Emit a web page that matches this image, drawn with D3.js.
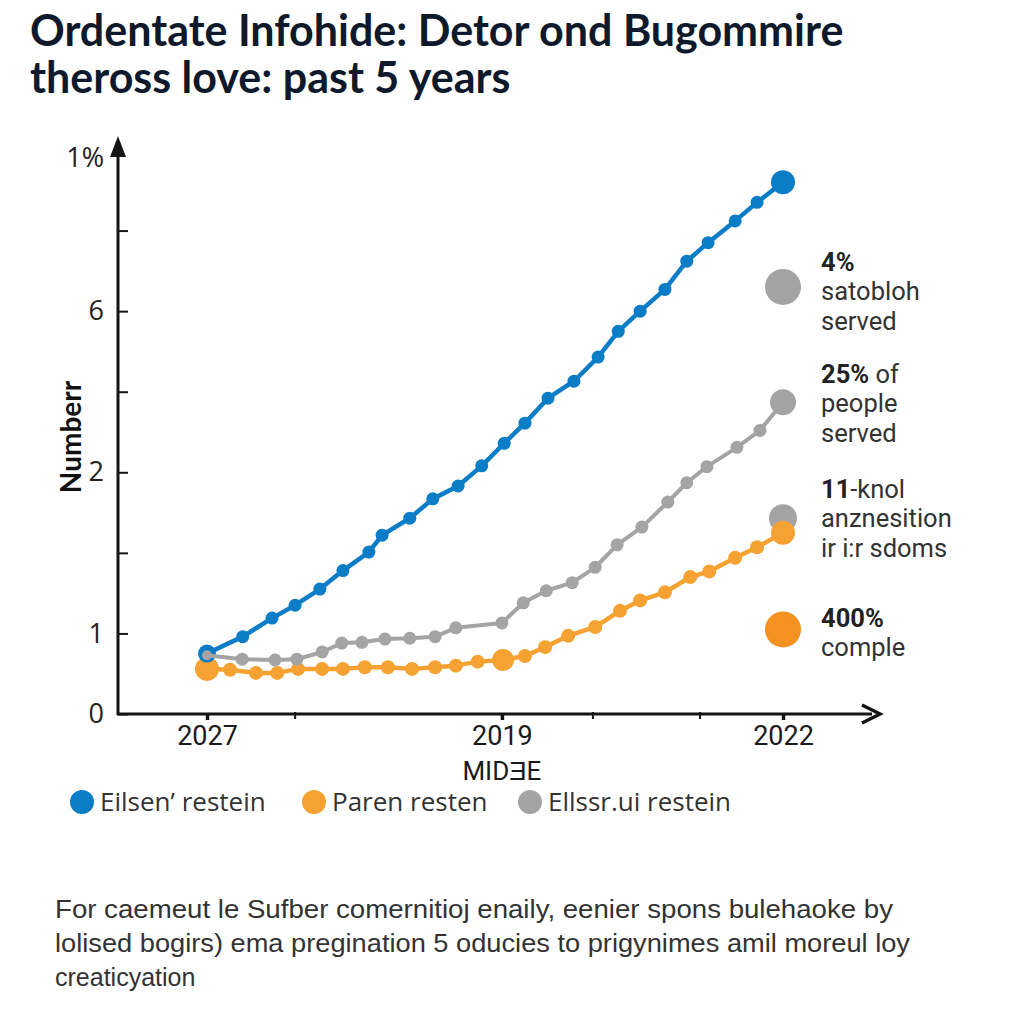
<!DOCTYPE html>
<html>
<head>
<meta charset="utf-8">
<script src="https://cdn.jsdelivr.net/npm/d3@7"></script>
<style>
  html, body { margin: 0; padding: 0; background: #ffffff; }
  svg { display: block; }
</style>
</head>
<body>
<svg id="chart" width="1024" height="1024"></svg>
<script>
// ---------------- DATA ----------------
const titleLines = ["Ordentate Infohide: Detor ond Bugommire", "theross love: past 5 years"];
const yAxisTitle = "Numberr";
const xAxisTitle = "MIDƎE";

const yTickValues = [0, 1, 2, 3, 4, 5, 6, 7];
const yTickLabels = ["0", "1", "", "2", "", "6", "", "1%"];

const xTickValues = [0, 51.2, 100];
const xTickLabels = ["2027", "2019", "2022"];
const xMinorTicks = [15.3, 67, 85.6];

const seriesNames = ["Eilsen’ restein", "Paren resten", "Ellssr.ui restein"];

const blueX = [0, 6.2, 11.3, 15.3, 19.6, 23.6, 28.1, 30.4, 35.2, 39.2, 43.6, 47.7, 51.6, 55.2, 59.2, 63.7, 67.9, 71.4, 75.2, 79.5, 83.3, 87.0, 91.7, 95.5, 100];
const blueY = [0.75, 0.96, 1.19, 1.35, 1.55, 1.78, 2.01, 2.22, 2.43, 2.67, 2.83, 3.08, 3.36, 3.61, 3.92, 4.13, 4.43, 4.75, 5.0, 5.27, 5.62, 5.85, 6.12, 6.35, 6.6];

const greyX = [0, 6.1, 11.8, 15.6, 20.0, 23.4, 26.9, 30.9, 35.2, 39.6, 43.2, 51.2, 54.9, 58.9, 63.4, 67.4, 71.2, 75.5, 80.0, 83.3, 86.8, 92.0, 96.0, 100];
const greyY = [0.73, 0.68, 0.67, 0.68, 0.77, 0.88, 0.89, 0.93, 0.94, 0.96, 1.07, 1.13, 1.38, 1.53, 1.63, 1.82, 2.10, 2.32, 2.63, 2.87, 3.07, 3.31, 3.52, 3.87];

const orangeX = [0, 4.0, 8.5, 12.2, 15.8, 20.0, 23.6, 27.4, 31.4, 35.6, 39.6, 43.2, 47.0, 51.4, 55.2, 58.7, 62.7, 67.4, 71.7, 75.2, 79.5, 83.9, 87.2, 91.7, 95.5, 100];
const orangeY = [0.56, 0.55, 0.51, 0.51, 0.56, 0.56, 0.56, 0.58, 0.58, 0.56, 0.58, 0.60, 0.65, 0.67, 0.72, 0.83, 0.97, 1.08, 1.28, 1.41, 1.51, 1.70, 1.77, 1.94, 2.07, 2.25];

// right-hand annotations (marker value on y scale, bold lead, rest of lines)
const noteY = [5.3, 2.43, 1.05];
const noteBold = ["4%", "25%", "11", "400%"];
const noteLines = [
  ["", "satobloh", "served"],
  [" of", "people", "served"],
  ["-knol", "anznesition", "ir i:r sdoms"],
  ["", "comple"]
];

const footnote = [
  "For caemeut le Sufber comernitioj enaily, eenier spons bulehaoke by",
  "lolised bogirs) ema pregination 5 oducies to prigynimes amil moreul loy",
  "creaticyation"
];

// ---------------- DRAW ----------------
const svg = d3.select("#chart");
const C = { blue: "#0b7cc6", orange: "#f5a232", grey: "#a4a4a4", orangeDark: "#f39220", axis: "#151515", text: "#333333" };

const x = d3.scaleLinear().domain([0, 100]).range([207, 783]);
const y = d3.scaleLinear().domain([0, 7]).range([714, 150]);
const X0 = 118, Y0 = 714;

// title
svg.append("g").selectAll("text").data(titleLines).join("text")
  .attr("x", 30).attr("y", (d, i) => 46 + i * 47)
  .attr("font-family", "Lato, sans-serif").attr("font-weight", 700)
  .attr("font-size", 43).attr("fill", "#0e1a2c")
  .text(d => d);

// y axis
const yAxis = d3.axisLeft(y).tickValues(yTickValues)
  .tickFormat((d, i) => yTickLabels[i]).tickSizeInner(-10).tickSizeOuter(0).tickPadding(14);
const gy = svg.append("g").attr("transform", `translate(${X0},0)`).call(yAxis);
gy.select(".domain").remove();
gy.selectAll(".tick line").attr("stroke", C.axis).attr("stroke-width", 2);
gy.selectAll(".tick text").attr("font-family", "'Open Sans', sans-serif").attr("font-size", 27).attr("fill", "#222")
  .attr("dy", (d) => d === 7 ? "0.6em" : "0.32em");
gy.selectAll(".tick").filter(d => d === 7).select("line").remove();

// x axis
const xAxis = d3.axisBottom(x).tickValues(xTickValues)
  .tickFormat((d, i) => xTickLabels[i]).tickSizeInner(6).tickSizeOuter(0).tickPadding(6);
const gx = svg.append("g").attr("transform", `translate(0,${Y0})`).call(xAxis);
gx.select(".domain").remove();
gx.selectAll(".tick line").attr("stroke", C.axis).attr("stroke-width", 3.5);
gx.selectAll(".tick text").attr("font-family", "Roboto, sans-serif").attr("font-size", 27).attr("fill", "#1a1a1a");
gx.append("g").selectAll("line").data(xMinorTicks).join("line")
  .attr("x1", d => x(d)).attr("x2", d => x(d)).attr("y1", -2).attr("y2", 5)
  .attr("stroke", C.axis).attr("stroke-width", 2);

// axis lines with arrows
svg.append("line").attr("x1", X0).attr("x2", X0).attr("y1", Y0 + 1).attr("y2", 150)
  .attr("stroke", C.axis).attr("stroke-width", 3);
svg.append("path").attr("d", `M${X0 - 8},${157} L${X0},${136} L${X0 + 8},${157} Z`).attr("fill", C.axis);
svg.append("line").attr("x1", X0 - 1).attr("x2", 872).attr("y1", Y0).attr("y2", Y0)
  .attr("stroke", C.axis).attr("stroke-width", 3);
svg.append("path").attr("d", `M${862},${Y0 - 9} L${880},${Y0} L${862},${Y0 + 9}`)
  .attr("fill", "none").attr("stroke", C.axis).attr("stroke-width", 3.5).attr("stroke-linejoin", "miter");

// axis titles
svg.append("text").attr("transform", "translate(81,437) rotate(-90)")
  .attr("text-anchor", "middle").attr("font-family", "Lato, sans-serif").attr("font-weight", 700)
  .attr("font-size", 28).attr("fill", "#111").text(yAxisTitle);
svg.append("text").attr("x", x(51.2)).attr("y", 780).attr("text-anchor", "middle")
  .attr("font-family", "Roboto, sans-serif").attr("font-size", 26).attr("fill", "#1a1a1a").text(xAxisTitle);

// annotation markers (behind series)
const noteMarkerR = [18, 14, 18];
const noteMarkerColor = [C.grey, C.grey, C.orangeDark];
svg.append("g").selectAll("circle").data([noteY[0], noteY[1]]).join("circle")
  .attr("cx", x(100)).attr("cy", d => y(d)).attr("r", (d, i) => noteMarkerR[i]).attr("fill", (d, i) => noteMarkerColor[i]);

// series
const line = d3.line().x(d => x(d[0])).y(d => y(d[1]));
function drawSeries(xs, ys, color, width, r, big) {
  const pts = xs.map((v, i) => [v, ys[i]]);
  const g = svg.append("g");
  g.append("path").datum(pts).attr("d", line).attr("fill", "none")
    .attr("stroke", color).attr("stroke-width", width).attr("stroke-linejoin", "round");
  g.selectAll("circle").data(pts).join("circle")
    .attr("cx", d => x(d[0])).attr("cy", d => y(d[1]))
    .attr("r", (d, i) => big[i] || r).attr("fill", color);
}
drawSeries(orangeX, orangeY, C.orange, 4.5, 7, { 0: 12, 13: 11, 25: 12 });
drawSeries(blueX, blueY, C.blue, 4.5, 6.5, { 0: 9, 24: 12 });
drawSeries(greyX, greyY, C.grey, 4, 6.5, { 0: 5, 23: 13 });

svg.append("circle").attr("cx", x(100)).attr("cy", y(noteY[2])).attr("r", noteMarkerR[2]).attr("fill", noteMarkerColor[2]);

// annotation texts (one text element per block, lines as tspans)
const noteTop = [271, 383, 498, 627];
const noteG = svg.append("g").attr("font-family", "Roboto, sans-serif").attr("font-size", 25.5).attr("fill", C.text);
noteBold.forEach((b, k) => {
  const t = noteG.append("text").attr("x", 821).attr("y", noteTop[k]);
  t.append("tspan").attr("font-weight", 700).attr("fill", "#222").text(b);
  t.append("tspan").text(noteLines[k][0]);
  noteLines[k].slice(1).forEach((s) => {
    t.append("tspan").attr("x", 821).attr("dy", 29.3).text(s);
  });
});

// legend
const legendX = [82, 314, 530];
const legendColors = [C.blue, C.orange, C.grey];
const lg = svg.append("g");
seriesNames.forEach((n, i) => {
  lg.append("circle").attr("cx", legendX[i]).attr("cy", 802).attr("r", 12).attr("fill", legendColors[i]);
  lg.append("text").attr("x", legendX[i] + 18).attr("y", 811)
    .attr("font-family", "'Open Sans', sans-serif").attr("font-size", 26).attr("fill", C.text).text(n);
});

// footnote
const fnW = [838, 855, 0];
svg.append("g").selectAll("text").data(footnote).join("text")
  .attr("x", 55).attr("y", (d, i) => 918 + i * 34)
  .attr("font-family", "'Liberation Sans', Arial, sans-serif").attr("font-size", 25).attr("fill", "#333")
  .each(function(d, i) { if (fnW[i]) d3.select(this).attr("textLength", fnW[i]).attr("lengthAdjust", "spacingAndGlyphs"); })
  .text(d => d);
</script>
</body>
</html>
